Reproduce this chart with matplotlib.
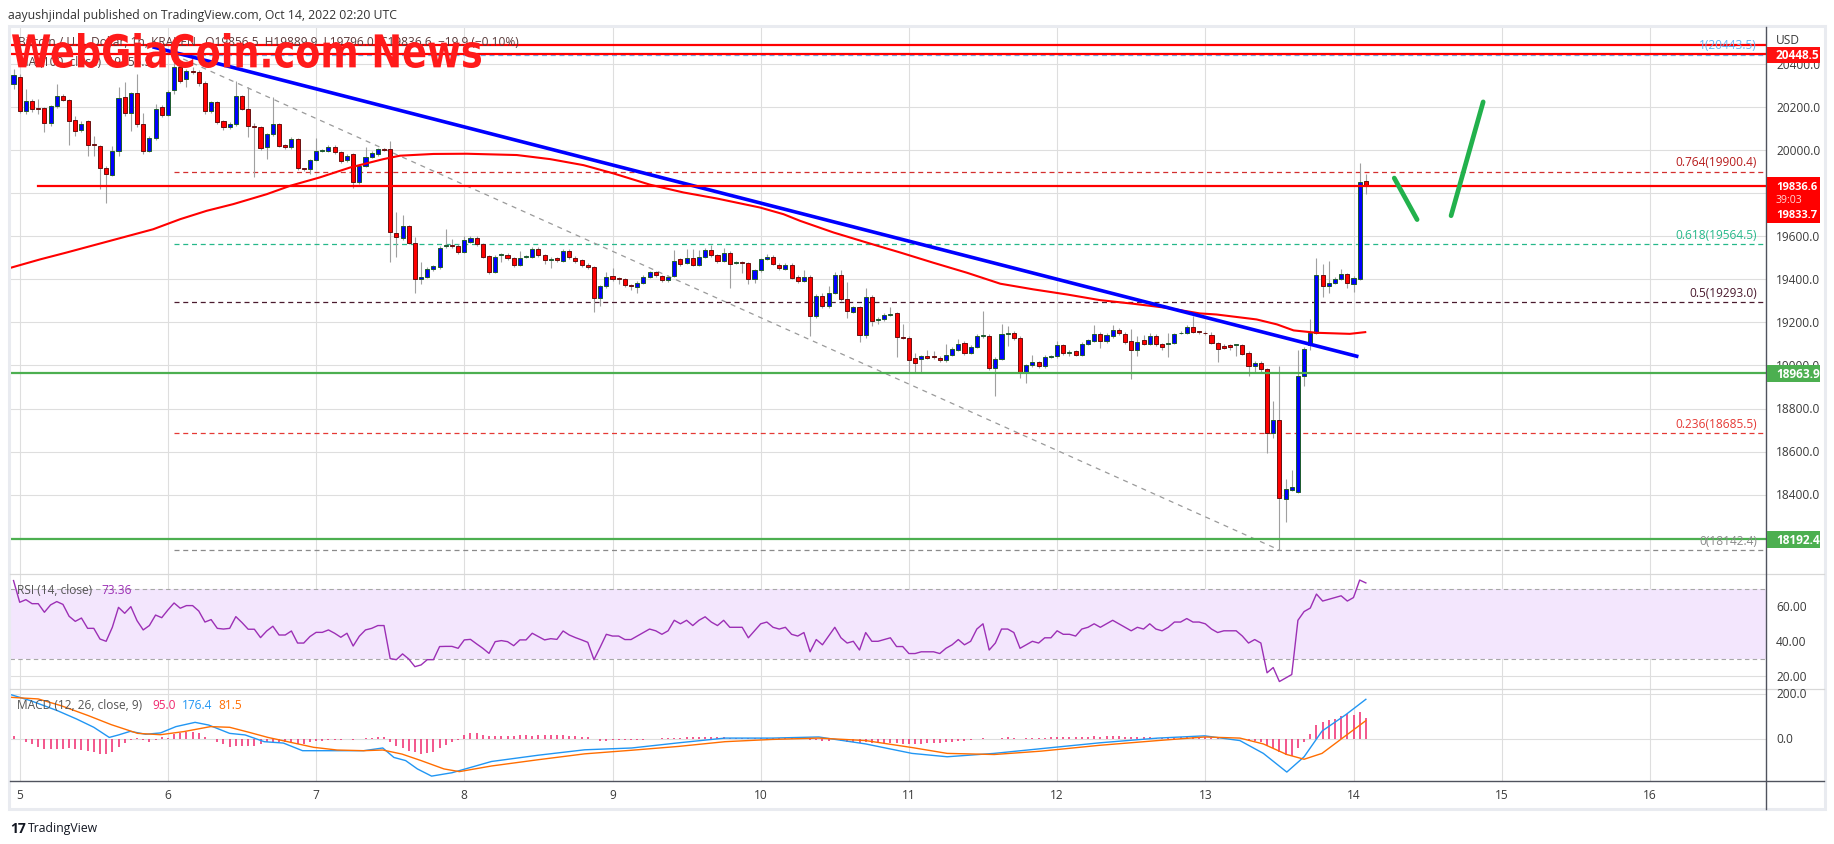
import numpy as np
import matplotlib
matplotlib.use('Agg')
import matplotlib.pyplot as plt
from matplotlib.patches import Rectangle, PathPatch
from matplotlib.textpath import TextPath
from matplotlib.font_manager import FontProperties
from matplotlib.transforms import Affine2D

plt.rcParams['font.family'] = ['Open Sans', 'DejaVu Sans']

# --- hourly candles, hour 0 = Oct 5 00:00 UTC ---
hours = list(range(-1, 219))
opens = [20309, 20340, 20181, 20228, 20194, 20195, 20125, 20205, 20254, 20233,
         20139, 20093, 20135, 20028, 20018, 19916, 19886, 19999, 20247, 20172,
         20265, 20121, 19995, 20056, 20200, 20164, 20278, 20386, 20332, 20370,
         20363, 20312, 20183, 20223, 20135, 20107, 20121, 20251, 20191, 20113,
         20107, 20014, 20074, 20121, 20025, 20014, 20051, 19916, 19911, 19953,
         19996, 19998, 20017, 19990, 19953, 19981, 19851, 19928, 19970, 19981,
         20004, 20004, 19618, 19591, 19646, 19571, 19403, 19413, 19450, 19456,
         19554, 19558, 19556, 19529, 19576, 19594, 19563, 19509, 19436, 19512,
         19515, 19501, 19469, 19505, 19506, 19543, 19512, 19489, 19501, 19487,
         19534, 19501, 19489, 19469, 19458, 19315, 19368, 19417, 19403, 19400,
         19372, 19366, 19385, 19413, 19434, 19417, 19396, 19417, 19493, 19478,
         19501, 19469, 19504, 19537, 19512, 19487, 19525, 19476, 19479, 19478,
         19400, 19442, 19493, 19506, 19469, 19450, 19469, 19413, 19394, 19413,
         19230, 19323, 19276, 19338, 19422, 19310, 19250, 19270, 19143, 19320,
         19212, 19214, 19236, 19242, 19134, 19129, 19035, 19031, 19045, 19040,
         19035, 19025, 19051, 19074, 19105, 19059, 19087, 19139, 19135, 18989,
         19031, 19147, 19152, 19129, 18969, 19000, 19015, 18997, 19041, 19043,
         19093, 19058, 19065, 19049, 19102, 19116, 19147, 19112, 19136, 19166,
         19146, 19116, 19074, 19119, 19102, 19139, 19098, 19102, 19105, 19149,
         19152, 19180, 19157, 19152, 19143, 19105, 19091, 19093, 19095, 19096,
         19059, 18997, 19012, 18984, 18684, 18747, 18379, 18422, 18414, 18950,
         19093, 19152, 19422, 19369, 19385, 19400, 19427, 19380, 19403, 19856.5]
highs = [20379, 20355, 20285, 20240, 20239, 20200, 20210, 20309, 20262, 20240,
         20161, 20135, 20140, 20068, 20025, 19925, 20018, 20293, 20316, 20270,
         20355, 20174, 20065, 20216, 20210, 20280, 20443, 20410, 20380, 20385,
         20372, 20320, 20230, 20230, 20140, 20130, 20324, 20258, 20293, 20125,
         20115, 20080, 20247, 20128, 20030, 20060, 20058, 19920, 19960, 20057,
         20008, 20025, 20025, 19995, 19982, 19988, 19935, 20014, 19995, 20012,
         20010, 20045, 19711, 19698, 19655, 19598, 19481, 19458, 19468, 19555,
         19636, 19590, 19565, 19600, 19600, 19600, 19570, 19515, 19512, 19525,
         19525, 19505, 19530, 19515, 19550, 19550, 19518, 19505, 19505, 19540,
         19540, 19508, 19495, 19475, 19462, 19375, 19436, 19455, 19410, 19405,
         19380, 19392, 19420, 19440, 19440, 19422, 19420, 19535, 19500, 19540,
         19540, 19535, 19545, 19560, 19518, 19548, 19530, 19485, 19485, 19482,
         19450, 19500, 19517, 19512, 19475, 19478, 19475, 19420, 19444, 19420,
         19330, 19335, 19370, 19434, 19442, 19389, 19278, 19278, 19358, 19328,
         19225, 19242, 19273, 19248, 19191, 19135, 19059, 19050, 19074, 19065,
         19042, 19102, 19085, 19124, 19112, 19095, 19147, 19253, 19147, 19038,
         19191, 19183, 19160, 19135, 19008, 19051, 19022, 19051, 19050, 19113,
         19100, 19074, 19072, 19110, 19125, 19186, 19155, 19150, 19186, 19172,
         19157, 19168, 19139, 19141, 19149, 19145, 19104, 19149, 19152, 19160,
         19188, 19230, 19162, 19160, 19155, 19110, 19098, 19098, 19102, 19102,
         19065, 19020, 19020, 18990, 18834, 18997, 18472, 18515, 19074, 19085,
         19214, 19498, 19470, 19486, 19410, 19447, 19432, 19415, 19941, 19889.9]
lows = [20285, 20175, 20169, 20180, 20169, 20084, 20115, 20195, 20228, 20026,
        20068, 20085, 19975, 19975, 19820, 19757, 19880, 19975, 20160, 20091,
        20110, 19985, 19990, 20050, 20155, 20158, 20262, 20315, 20293, 20355,
        20300, 20170, 20175, 20120, 20095, 20098, 20115, 20185, 20060, 19874,
        20000, 19959, 20068, 20015, 20008, 20008, 19910, 19905, 19889, 19948,
        19990, 19992, 19982, 19940, 19945, 19827, 19845, 19922, 19962, 19975,
        19995, 19481, 19506, 19585, 19565, 19338, 19377, 19405, 19440, 19448,
        19548, 19545, 19520, 19522, 19570, 19555, 19498, 19425, 19430, 19480,
        19492, 19460, 19462, 19498, 19500, 19505, 19470, 19455, 19480, 19480,
        19495, 19475, 19460, 19450, 19250, 19276, 19360, 19392, 19380, 19365,
        19350, 19338, 19380, 19408, 19412, 19388, 19390, 19410, 19462, 19470,
        19462, 19462, 19498, 19505, 19478, 19480, 19361, 19470, 19431, 19377,
        19385, 19435, 19488, 19465, 19445, 19442, 19400, 19385, 19388, 19136,
        19222, 19268, 19268, 19330, 19300, 19222, 19244, 19108, 19126, 19183,
        19191, 19205, 19230, 19039, 19122, 18969, 18969, 18969, 19028, 19030,
        19018, 19018, 19045, 19068, 19050, 19052, 19080, 19130, 18980, 18857,
        19025, 19090, 19118, 18942, 18919, 18993, 18990, 18990, 19035, 19036,
        19048, 19046, 19042, 19042, 19095, 19110, 19082, 19105, 19130, 19142,
        19102, 18938, 19046, 19095, 19095, 19090, 19074, 19040, 19098, 19144,
        19146, 19150, 19148, 19142, 19098, 19015, 19075, 19071, 19046, 19048,
        18950, 18969, 18966, 18593, 18663, 18143, 18271, 18415, 18408, 18903,
        19071, 19145, 19318, 19338, 19378, 19395, 19361, 19343, 19398, 19796.0]
closes = [20351, 20184, 20228, 20191, 20192, 20125, 20205, 20254, 20233, 20135,
          20088, 20124, 20026, 20024, 19916, 19891, 19995, 20242, 20172, 20265,
          20121, 19995, 20056, 20191, 20164, 20270, 20386, 20324, 20368, 20366,
          20312, 20183, 20223, 20130, 20107, 20121, 20251, 20192, 20111, 20109,
          20009, 20074, 20121, 20021, 20014, 20051, 19916, 19912, 19953, 19995,
          19999, 20017, 19990, 19948, 19975, 19851, 19928, 19970, 19986, 20004,
          20002, 19622, 19599, 19646, 19571, 19403, 19413, 19450, 19461, 19548,
          19558, 19555, 19529, 19584, 19594, 19563, 19506, 19436, 19506, 19515,
          19500, 19467, 19501, 19507, 19543, 19512, 19489, 19497, 19489, 19534,
          19504, 19487, 19469, 19458, 19315, 19368, 19413, 19400, 19401, 19372,
          19370, 19385, 19413, 19434, 19419, 19396, 19413, 19487, 19470, 19501,
          19469, 19504, 19537, 19512, 19487, 19525, 19473, 19479, 19477, 19400,
          19442, 19493, 19506, 19473, 19455, 19469, 19408, 19394, 19413, 19230,
          19323, 19276, 19338, 19422, 19310, 19253, 19270, 19143, 19320, 19206,
          19216, 19234, 19240, 19132, 19130, 19025, 19012, 19043, 19035, 19038,
          19025, 19051, 19077, 19102, 19059, 19087, 19139, 19141, 18989, 19031,
          19147, 19149, 19126, 18969, 19000, 19015, 18997, 19040, 19043, 19093,
          19056, 19060, 19049, 19102, 19118, 19147, 19115, 19143, 19166, 19149,
          19110, 19074, 19110, 19102, 19139, 19098, 19084, 19105, 19147, 19152,
          19180, 19157, 19155, 19149, 19105, 19077, 19082, 19087, 19097, 19054,
          18997, 19012, 18984, 18684, 18747, 18383, 18424, 18434, 18950, 19077,
          19152, 19422, 19369, 19385, 19400, 19427, 19383, 19408, 19855, 19836.6]

# 100-period moving average, read at points along the curve
ma_hours = [-1.6, 3.3, 7.6, 14.6, 21.6, 26, 30.3, 34.6, 40, 43.8, 48.6, 53.5, 58.9,
            61.6, 67, 72.4, 80.5, 85.9, 91.3, 96.1, 102.1, 107.5, 112.9, 119.9,
            123.7, 126.4, 131.8, 137.2, 142.6, 147.9, 153.4, 158.8, 164.1, 169.6,
            174.9, 180.3, 185.7, 191.1, 193.8, 200.3, 203.6, 206.3, 210, 215.4, 217.9]
ma_values = [19453, 19493, 19525, 19579, 19633, 19680, 19719, 19750, 19796, 19835,
             19874, 19920, 19959, 19975, 19983, 19984, 19978, 19959, 19931, 19893,
             19840, 19804, 19776, 19734, 19703, 19672, 19618, 19571, 19525, 19478,
             19431, 19380, 19354, 19330, 19304, 19287, 19268, 19242, 19237, 19214,
             19191, 19163, 19152, 19147, 19155]

# drawn objects
trend_hours = [21.5, 216.8]
trend_prices = [20481, 19041]
fib_anchor_hours = [25, 204]
fib_anchor_prices = [20443.5, 18142.4]
fib_ratios = ['1', '0.764', '0.618', '0.5', '0.236', '0']
fib_prices = [20443.5, 19900.4, 19564.5, 19293.0, 18685.5, 18142.4]
fib_colors = ['#64b5f6', '#d32f2f', '#26b88a', '#4a1a2e', '#e53935', '#8a8a8a']
fib_text_colors = ['#64b5f6', '#b71c1c', '#26b88a', '#4a1a2e', '#e53935', '#8a8a8a']
red_levels = [20491, 20448.5]
resistance = 19833.7
supports = [18963.9, 18192.4]
arrow1_hours = [222.6, 226.3]
arrow1_prices = [19871, 19678]
arrow2_hours = [231.8, 237.0]
arrow2_prices = [19696, 20225]

# RSI (14)
rsi_hours = list(range(-1, 219))
rsi_values = [74.7, 62.3, 63.8, 61.5, 61.5, 56.6, 60.8, 62.7, 61.1, 54.3,
              51.4, 53.3, 47.4, 47.4, 41.3, 40.0, 48.0, 59.4, 56.0, 59.8,
              51.8, 46.5, 49.0, 55.0, 53.5, 57.9, 61.9, 58.9, 60.4, 60.4,
              57.3, 51.0, 52.4, 47.4, 47.0, 47.4, 54.1, 50.7, 46.9, 46.9,
              42.1, 45.9, 48.6, 43.6, 43.6, 45.9, 39.0, 39.0, 42.7, 45.1,
              45.1, 46.5, 44.6, 42.3, 44.6, 37.3, 42.9, 46.5, 47.4, 49.0,
              49.0, 30.1, 29.5, 32.8, 29.9, 25.5, 26.5, 29.5, 29.5, 37.0,
              37.1, 37.1, 36.0, 40.8, 41.1, 38.5, 36.0, 33.1, 39.8, 40.4,
              39.8, 37.5, 40.8, 40.8, 44.6, 42.7, 40.8, 41.5, 41.1, 45.9,
              43.6, 42.1, 40.8, 39.4, 29.5, 36.6, 44, 43, 43, 41,
              41, 43, 45, 47, 46, 44, 46, 52, 50, 52,
              49, 52, 54, 51, 49, 52, 48, 48, 48, 42,
              46, 50, 51, 48, 47, 48, 44, 43, 45, 34,
              41, 38, 43, 48, 42, 39, 40, 35, 45, 40,
              40, 41, 42, 37, 37, 33, 33, 34, 34, 34,
              33, 36, 38, 41, 38, 40, 47, 50, 35, 39,
              47, 47, 45, 36, 38, 40, 39, 42, 42, 46,
              44, 44, 43, 47, 48, 50, 48, 50, 52, 50,
              48, 46, 48, 47, 50, 47, 46, 48, 51, 51,
              53, 51, 51, 50, 47, 45, 46, 46, 46, 43,
              39, 41, 39, 22, 25, 17, 19, 21, 52, 57,
              59, 67, 63, 64, 65, 66, 63, 65, 75, 73.36]

# MACD (12, 26, 9)
macd_hours = [-1.3, 1.8, 6.1, 9.2, 12, 14.5, 16, 17.9, 20.4, 22.8, 25.3, 28.4, 30.6,
              34, 36.5, 39.6, 42.7, 45.8, 49.5, 52.6, 55.7, 58.8, 60.6, 62.5, 64.4,
              66.7, 70, 76.4, 84, 91.5, 99.1, 106.7, 114.2, 121.8, 129.4, 137,
              144.5, 150.2, 157.8, 165.4, 174.9, 184.3, 191.9, 197.6, 201.4, 205.2,
              208, 210.9, 214.7, 218]
macd_values = [196, 170, 126, 89, 52, 7, 18, 34, 21, 27, 55, 74, 62,
               25, 18, -12, -18, -52, -52, -52, -52, -40, -82, -96, -133,
               -165, -150, -100, -72, -48, -40, -17, 4, 4, 9, -22,
               -64, -79, -64, -43, -17, 4, 14, -7, -64, -147,
               -79, 35, 107, 176.4]
signal_hours = [-1.3, 3, 6.7, 11.1, 14.8, 19.1, 22.8, 26.6, 30.9, 34, 37.1, 40.2,
                43.9, 47.6, 51.4, 55.7, 58.8, 61.9, 65, 68.7, 71.2, 76.4, 84, 91.5,
                99.1, 106.7, 114.2, 121.8, 129.4, 137, 144.5, 150.2, 157.8, 165.4,
                174.9, 184.3, 191.9, 197.6, 201.4, 205.2, 208, 210.9, 214.7, 218]
signal_values = [185, 178, 148, 104, 64, 25, 19, 33, 55, 52, 30, 7,
                 -15, -37, -49, -52, -49, -67, -96, -133, -145, -120, -92, -66,
                 -50, -33, -12, -2, 4, -7, -38, -64, -69, -54,
                 -28, -7, 9, 4, -22, -69, -90, -64, 14, 81.5]
hist_hours = list(range(-1, 219))
hist_values = [12, 0, -12, -22, -34, -44, -44, -44, -44, -40,
               -44, -49, -52, -56, -67, -67, -59, -34, -18, -3,
               3, -3, -12, -3, 7, 3, 21, 27, 33, 30,
               27, 7, 0, -15, -22, -37, -30, -30, -30, -30,
               -22, -15, -12, -15, -15, -12, -22, -22, -15, -7,
               -7, -4, -4, -6, 0, -3, 0, 4, 6, 7,
               7, -15, -30, -40, -52, -59, -67, -62, -56, -40,
               -27, -15, -3, 18, 25, 25, 18, 15, 15, 15,
               15, 12, 18, 18, 15, 18, 18, 18, 18, 18,
               15, 12, 7, 7, 0, -10, -8, -6, -5, -6,
               -5, -4, -3, 0, 2, 3, 3, 5, 6, 7,
               8, 8, 9, 9, 8, 8, 6, 5, 4, 3,
               3, 4, 5, 5, 5, 4, 3, 2, 1, -5,
               -6, -8, -8, -5, -8, -12, -14, -18, -15, -17,
               -18, -18, -17, -20, -22, -24, -24, -22, -20, -18,
               -16, -14, -12, -8, -7, -5, 0, 3, -2, 0,
               5, 7, 6, 2, 3, 4, 4, 6, 7, 9,
               8, 8, 8, 10, 11, 12, 11, 12, 13, 12,
               10, 8, 8, 7, 8, 6, 5, 5, 6, 7,
               8, 9, 8, 7, 5, 3, 2, 1, 0, -2,
               -8, -10, -14, -30, -38, -60, -70, -75, -40, -15,
               20, 60, 75, 85, 90, 100, 110, 105, 120, 95.0]

day_labels = ['5', '6', '7', '8', '9', '10', '11', '12', '13', '14', '15', '16']
# 19800 and 18200 sit under the price boxes in the screenshot
price_ticks = [18400, 18600, 18800, 19000, 19200, 19400, 19600, 20000, 20200, 20400]
grid_prices = [18200, 18400, 18600, 18800, 19000, 19200, 19400, 19600, 19800,
               20000, 20200, 20400]

# --- layout (figure pixels) ---
W, H = 1834, 845
PX0, PX1 = 10, 1766
Y_MAIN, Y_RSI, Y_MACD, Y_AX = 28, 575, 690, 782
HOUR_PX, DAY0_PX = 6.175, 19.7
XLIM = ((PX0 - DAY0_PX) / HOUR_PX, (PX1 - DAY0_PX) / HOUR_PX)
P_TOP, P_BOT = 20573, 18031
R_TOP, R_BOT = 78.46, 12.74
M_TOP, M_BOT = 222.2, -186.7

fig = plt.figure(figsize=(W / 100, H / 100), dpi=100)
fig.patch.set_facecolor('white')


def pane(y0, y1):
    a = fig.add_axes([PX0 / W, 1 - y1 / H, (PX1 - PX0) / W, (y1 - y0) / H])
    a.set_xlim(*XLIM)
    a.axis('off')
    return a


ax = pane(Y_MAIN, Y_RSI)
ax.set_ylim(P_BOT, P_TOP)
ax_r = pane(Y_RSI, Y_MACD)
ax_r.set_ylim(R_BOT, R_TOP)
ax_m = pane(Y_MACD, Y_AX)
ax_m.set_ylim(M_BOT, M_TOP)

ov = fig.add_axes([0, 0, 1, 1], zorder=10)
ov.set_xlim(0, W)
ov.set_ylim(H, 0)
ov.axis('off')
ov.patch.set_alpha(0)


def py(p):
    return Y_MAIN + (P_TOP - p) / (P_TOP - P_BOT) * (Y_RSI - Y_MAIN)


def ry(v):
    return Y_RSI + (R_TOP - v) / (R_TOP - R_BOT) * (Y_MACD - Y_RSI)


def my(v):
    return Y_MACD + (M_TOP - v) / (M_TOP - M_BOT) * (Y_AX - Y_MACD)


GRID = '#dedede'
day_hours = [24 * i for i in range(len(day_labels))]
for a in (ax, ax_r, ax_m):
    for dh in day_hours:
        a.axvline(dh, color=GRID, lw=0.8, zorder=0)
for p in grid_prices:
    ax.axhline(p, color=GRID, lw=0.8, zorder=0)
for v in (20, 40, 60):
    ax_r.axhline(v, color=GRID, lw=0.8, zorder=0)
for v in (0, 200):
    ax_m.axhline(v, color=GRID, lw=0.8, zorder=0)

# fib retracement
x_end = XLIM[1]
for p, col in zip(fib_prices, fib_colors):
    ax.plot([fib_anchor_hours[0], x_end], [p, p], color=col, lw=0.9,
            ls=(0, (4, 3)), zorder=1)
ax.plot(fib_anchor_hours, fib_anchor_prices, color='#9a9a9a', lw=0.9,
        ls=(0, (4, 4)), zorder=1)

# moving average
ax.plot(ma_hours, ma_values, color='#ff0000', lw=1.5, zorder=5)

# candles
o = np.array(opens)
c = np.array(closes)
up = c >= o
ax.vlines(hours, lows, highs, color='#a0a0a0', lw=0.8, zorder=3)
ax.bar(hours, np.maximum(np.abs(c - o), 4), bottom=np.minimum(o, c), width=0.66,
       color=np.where(up, '#0000ff', '#ff0000'),
       edgecolor=np.where(up, '#1f5e2c', '#6a1010'), linewidth=0.7, zorder=4)

# lines on top of candles
ax.plot(trend_hours, trend_prices, color='#0000ff', lw=2.6, zorder=6,
        solid_capstyle='butt')
for p in red_levels:
    ax.axhline(p, color='#ff0000', lw=1.6, zorder=6)
ax.plot([3, x_end], [resistance, resistance], color='#ff0000', lw=1.6, zorder=6)
for p in supports:
    ax.axhline(p, color='#4caf50', lw=1.6, zorder=6)
for hh, pp in ((arrow1_hours, arrow1_prices), (arrow2_hours, arrow2_prices)):
    ax.plot(hh, pp, color='#22b14c', lw=3.4, zorder=6, solid_capstyle='round')

# RSI pane
ax_r.axhspan(30, 70, color='#f3e6fd', zorder=0.5, lw=0)
for v in (30, 70):
    ax_r.axhline(v, color='#a8a8a8', lw=0.8, ls=(0, (4, 3)), zorder=1)
ax_r.plot(rsi_hours, rsi_values, color='#9c2fb5', lw=1.0, zorder=3)

# MACD pane
ax_m.vlines(hist_hours, 0, hist_values, color='#f0286e', lw=1.1, zorder=2)
ax_m.plot(macd_hours, macd_values, color='#2196f3', lw=1.0, zorder=3)
ax_m.plot(signal_hours, signal_values, color='#ff6d00', lw=1.0, zorder=3)

# --- frame, separators, axes ---
ov.add_patch(Rectangle((9, 27), 1816, 783, fill=False, ec='#e9ebf0', lw=2.2))
ov.plot([PX0, 1824], [Y_RSI, Y_RSI], color='#d8d8d8', lw=0.9)
ov.plot([PX0, 1824], [Y_MACD, Y_MACD], color='#d8d8d8', lw=0.9)
ov.plot([PX0, 1824], [Y_AX, Y_AX], color='#50535e', lw=1.0)
ov.plot([PX1, PX1], [Y_MAIN, 810], color='#50535e', lw=1.0)

FS = 8.6
TXT = '#3a3a3a'
ov.text(8, 15, 'aayushjindal published on TradingView.com, Oct 14, 2022 02:20 UTC',
        fontsize=8.8, color='#333333', va='center')
ov.text(1776, 40, 'USD', fontsize=FS, color=TXT, va='center')
for p in price_ticks:
    ov.text(1776, py(p), f'{p:.1f}', fontsize=FS, color=TXT, va='center')
for v in (20, 40, 60):
    ov.text(1776, ry(v), f'{v:.2f}', fontsize=FS, color=TXT, va='center')
for v in (0, 200):
    ov.text(1776, my(v), f'{v:.1f}', fontsize=FS, color=TXT, va='center')
for lab, dh in zip(day_labels, day_hours):
    ov.text(DAY0_PX + dh * HOUR_PX, 796, lab, fontsize=FS, color=TXT,
            ha='center', va='center')

# fib labels
for r, p, col in zip(fib_ratios, fib_prices, fib_text_colors):
    ov.text(1757, py(p) - 10, f'{r}({p:.1f})', fontsize=FS, color=col,
            ha='right', va='center')


def price_box(p0, p1, colr, lines):
    ov.add_patch(Rectangle((1767, p0), 53, p1 - p0, color=colr, lw=0, zorder=5))
    for yy, t, tc, fw, fs in lines:
        ov.text(1776, yy, t, fontsize=fs, color=tc, fontweight=fw, va='center',
                zorder=6)


price_box(48, 63.5, '#ff1010', [(py(20448.5) + 0.5, '20448.5', 'white', 'bold', FS)])
price_box(178, 223.5, '#ff0000', [(187.5, '19836.6', 'white', 'bold', 8.0),
                                  (200.5, '39:03', '#ffd6d6', 'normal', 7.6),
                                  (215.5, '19833.7', 'white', 'bold', 8.0)])
price_box(py(18963.9) - 8.5, py(18963.9) + 8.5, '#4caf50',
          [(py(18963.9), '18963.9', 'white', 'bold', FS)])
price_box(py(18192.4) - 8.5, py(18192.4) + 8.5, '#4caf50',
          [(py(18192.4), '18192.4', 'white', 'bold', FS)])

# pane legends
ov.text(18, 42, 'Bitcoin / U.S. Dollar, 1h, KRAKEN   O19856.5  H19889.9  L19796.0  '
        'C19836.6  \u221219.9 (\u22120.10%)', fontsize=FS, color='#5a3a3a', va='center')
ov.text(18, 62, 'MA (100, close)  19155.5', fontsize=FS, color='#5a3a3a', va='center')
ov.text(17, 591, 'RSI (14, close)', fontsize=FS, color='#555555', va='center')
ov.text(101, 591, '73.36', fontsize=FS, color='#9c2fb5', va='center')
ov.text(17, 706, 'MACD (12, 26, close, 9)', fontsize=FS, color='#555555', va='center')
ov.text(152, 706, '95.0', fontsize=FS, color='#f0286e', va='center')
ov.text(182, 706, '176.4', fontsize=FS, color='#2196f3', va='center')
ov.text(218, 706, '81.5', fontsize=FS, color='#ff6d00', va='center')

# watermark, stretched to the box it fills in the screenshot
tp = TextPath((0, 0), 'WebGiaCoin.com News', size=100,
              prop=FontProperties(family='DejaVu Sans', weight='bold'))
ext = tp.get_extents()
wm_tr = (Affine2D().translate(-ext.x0, -ext.y0)
         .scale(469 / ext.width, -35 / ext.height).translate(12, 69))
ov.add_patch(PathPatch(wm_tr.transform_path(tp), color='#ff1a1a', lw=0, zorder=20))

# footer
ov.text(10, 829, '17', fontsize=10, fontweight='bold', color='#131722', va='center')
ov.text(28, 829, 'TradingView', fontsize=8.8, color='#131722', va='center')

fig.savefig('out.png', dpi=100, facecolor='white')
